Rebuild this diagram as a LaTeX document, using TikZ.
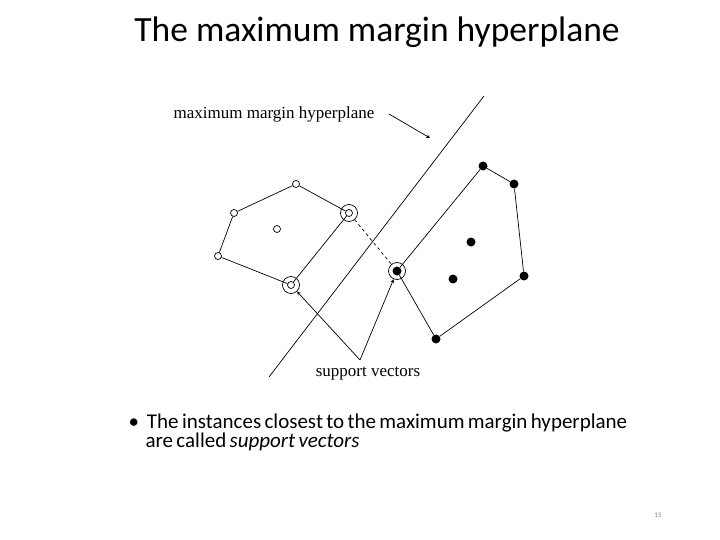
\documentclass[tikz,border=0pt]{standalone}
\usepackage{fontspec}
\setmainfont{Carlito}
\newfontfamily\timesf{Liberation Serif}
\begin{document}
\begin{tikzpicture}[x=1pt,y=-1pt,
  op/.style={circle,draw,inner sep=0pt,minimum size=7pt,line width=0.7pt},
  fp/.style={circle,fill,inner sep=0pt,minimum size=9pt},
  ring/.style={circle,draw,inner sep=0pt,minimum size=17pt,line width=0.7pt},
  ln/.style={line width=0.7pt},
  ar/.style={-stealth,line width=0.7pt}]
\useasboundingbox (0,0) rectangle (720,540);
\node (title) at (377,32) {\fontsize{35.5}{40}\selectfont The maximum margin hyperplane};
% open points
\node[op] (o1) at (296,184) {};
\node[op] (o2) at (234,213) {};
\node[op] (o3) at (218,256) {};
\node[op] (o4) at (291,285) {};
\node[op] (o5) at (349,213) {};
\node[op] (o6) at (277,229) {};
\node[ring] (r4) at (291,285) {};
\node[ring] (r5) at (349,213) {};
% filled points
\node[fp] (f1) at (483,166) {};
\node[fp] (f2) at (514,184) {};
\node[fp] (f3) at (471,242) {};
\node[fp] (f4) at (453,279) {};
\node[fp] (f5) at (524,276) {};
\node[fp] (f6) at (436,339) {};
\node[fp] (f7) at (397,271) {};
\node[ring] (r7) at (397,271) {};
\draw[ln] (o1)--(o2)--(o3)--(o4)--(o5)--(o1);
\draw[ln] (f7)--(f1)--(f2)--(f5)--(f6)--(f7);
\draw[ln,dashed] (r5)--(r7);
\coordinate (h1) at (484,96);
\coordinate (h2) at (269,377);
\draw[ln] (h1)--(h2);
\node[font=\timesf\fontsize{17}{19}\selectfont] (mlab) at (274,114) {maximum margin hyperplane};
\coordinate (mt) at (430,138);
\draw[ar] (389,114) -- (mt);
\node[font=\timesf\fontsize{17}{19}\selectfont] (slab) at (368,374) {support vectors};
\coordinate (sv) at (360,360);
\draw[ar] (sv) -- (r4);
\draw[ar] (sv) -- (r7);
\node[anchor=north west,align=left,text width=560pt] (bul) at (125,410) {\fontsize{21}{27}\selectfont \textbullet\hspace{8pt}The instances closest to the maximum margin hyperplane\\\hspace*{17pt}are called \textit{support vectors}};
\node[font=\fontsize{7}{8}\selectfont,text=gray] (pg) at (658,515) {15};
\end{tikzpicture}
\end{document}
